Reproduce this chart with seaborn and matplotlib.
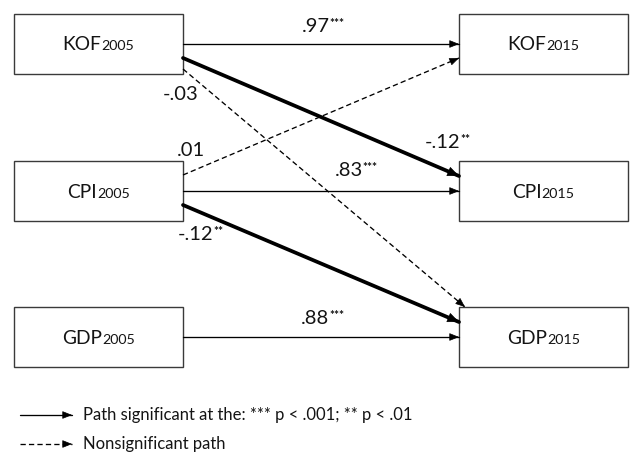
import matplotlib
matplotlib.use("Agg")
import matplotlib.pyplot as plt
import pandas as pd
import seaborn as sns
from matplotlib.offsetbox import AnnotationBbox, HPacker, TextArea
from matplotlib.patches import FancyArrowPatch, Rectangle

# variables and waves
variables = ["KOF", "CPI", "GDP"]
waves = ["2005", "2015"]

# standardized path coefficients (source -> target), with significance stars
sources = ["KOF", "KOF", "KOF", "CPI", "CPI", "CPI", "GDP"]
targets = ["KOF", "CPI", "GDP", "KOF", "CPI", "GDP", "GDP"]
coefs = [".97", "-.12", "-.03", ".01", ".83", "-.12", ".88"]
stars = ["***", "**", "", "", "***", "**", "***"]

legend_labels = ["Path significant at the: *** p < .001; ** p < .01",
                 "Nonsignificant path"]

FONT = "Lato"
INK = "#141414"

sns.set_theme(style="white")
plt.rcParams["font.family"] = [FONT, "DejaVu Sans"]

fig = plt.figure(figsize=(6.3, 4.55), dpi=100)
ax = fig.add_axes([0, 0, 1, 1])

# box layout (pixels)
box_w, box_h = 169, 60
left_x, right_x = 14, 459
row_top = {v: t for v, t in zip(variables, [14, 161, 307])}
row_mid = {v: row_top[v] + box_h / 2 for v in variables}


def box_label(x, y, name, year):
    parts = HPacker(children=[
        TextArea(name, textprops=dict(size=13.8, color=INK, family=FONT)),
        TextArea(year, textprops=dict(size=10.3, color=INK, family=FONT)),
    ], align="baseline", pad=0, sep=0)
    ax.add_artist(AnnotationBbox(parts, (x, y), frameon=False,
                                 box_alignment=(0.5, 0.5), pad=0))


# path geometry
start_off = {0: 0, 1: 14, 2: 25, -1: -16}
end_off = {0: 0, 1: -15, -1: 14}
label_pos = {
    ("KOF", "KOF"): (323, 27), ("KOF", "CPI"): (448, 142),
    ("KOF", "GDP"): (181, 94), ("CPI", "KOF"): (191, 150),
    ("CPI", "CPI"): (356, 171), ("CPI", "GDP"): (201, 234),
    ("GDP", "GDP"): (323, 318),
}

rows = []
heads = []
for k, (s, t, st) in enumerate(zip(sources, targets, stars)):
    dr = variables.index(t) - variables.index(s)
    x0, y0 = left_x + box_w, row_mid[s] + start_off[dr]
    if dr == 2:
        x1, y1 = right_x + 6, row_top[t]
    else:
        x1, y1 = right_x, row_mid[t] + end_off[dr]
    sig = "sig" if st else "ns"
    weight = "thick" if (st and s != t) else "thin"
    rows += [dict(path=k, x=x0, y=y0, sig=sig, weight=weight),
             dict(path=k, x=x1, y=y1, sig=sig, weight=weight)]
    heads.append((x0, y0, x1, y1, weight))

# legend arrows as extra paths
rows += [dict(path=10, x=20, y=415, sig="sig", weight="thin"),
         dict(path=10, x=72, y=415, sig="sig", weight="thin"),
         dict(path=11, x=20, y=444, sig="ns", weight="thin"),
         dict(path=11, x=72, y=444, sig="ns", weight="thin")]
heads += [(20, 415, 72, 415, "thin"), (20, 444, 72, 444, "thin")]

paths = pd.DataFrame(rows)
sns.lineplot(data=paths, x="x", y="y", units="path", estimator=None, sort=False,
             style="sig", dashes={"sig": "", "ns": (4, 2.4)},
             size="weight", sizes={"thick": 2.7, "thin": 0.95},
             color="black", legend=False, ax=ax)
ax.set_xlim(0, 630)
ax.set_ylim(455, 0)
ax.set_axis_off()

for v in variables:
    for x0, yr in zip([left_x, right_x], waves):
        ax.add_patch(Rectangle((x0, row_top[v]), box_w, box_h, fill=False,
                               edgecolor="#3a3a3a", lw=1.0))
        box_label(x0 + box_w / 2, row_mid[v] + 1, v, yr)

for x0, y0, x1, y1, w in heads:
    dx, dy = x1 - x0, y1 - y0
    n = (dx ** 2 + dy ** 2) ** 0.5
    hl, hw = (7.5, 3.2) if w == "thick" else (6.0, 2.4)
    ax.add_patch(FancyArrowPatch(
        (x1 - dx / n * 2, y1 - dy / n * 2), (x1, y1),
        arrowstyle=f"-|>,head_length={hl},head_width={hw}",
        mutation_scale=1, lw=0.5, color="black", shrinkA=0, shrinkB=0))

# coefficient labels
for s, t, c, st in zip(sources, targets, coefs, stars):
    kids = [TextArea(c, textprops=dict(size=14.5, color=INK, family=FONT))]
    if st:
        kids.append(TextArea(st, textprops=dict(size=8.5, color=INK, family=FONT,
                                                weight="bold")))
    pack = HPacker(children=kids, align="top", pad=0, sep=0)
    ax.add_artist(AnnotationBbox(pack, label_pos[(s, t)], frameon=False,
                                 box_alignment=(0.5, 0.5), pad=0))

# legend text
for y, txt in zip([415, 444], legend_labels):
    ax.text(83, y, txt, ha="left", va="center", fontsize=12, color=INK)

fig.savefig("out.png", dpi=100)
